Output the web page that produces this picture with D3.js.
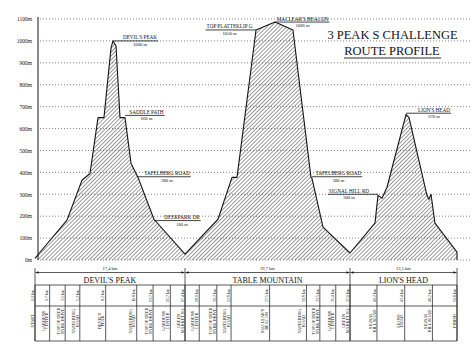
<!DOCTYPE html>
<html><head><meta charset="utf-8">
<script src="https://cdn.jsdelivr.net/npm/d3@7"></script>
<style>
html,body{margin:0;padding:0;background:#fff;}
svg{display:block;font-family:"Liberation Serif","DejaVu Serif",serif;}
</style></head><body>
<svg id="c" width="474" height="356"></svg>
<script>
// ---------- data ----------
const yTicks = [0,100,200,300,400,500,600,700,800,900,1000,1100];
const profileKm   = [0, 3.71, 5.45, 6.38, 7.31, 8.00, 8.82, 9.05, 9.40, 9.86, 10.44, 11.14, 11.95, 13.80, 17.4,
                     21.34, 23.01, 23.61, 25.88, 28.15, 30.29, 32.44, 32.56, 33.88, 37.1,
                     40.25, 40.63, 41.14, 41.77, 44.17, 44.55, 46.81, 47.06, 47.32, 47.82, 50.6, 50.6];
const profileElev = [8, 182, 364, 395, 650, 650, 968, 1000, 977, 650, 650, 441, 377, 186, 27,
                     186, 377, 377, 1050, 1086, 1050, 377, 373, 150, 32,
                     168, 295, 282, 332, 665, 650, 295, 277, 300, 168, 36, 0];
const sectionNames = ["DEVIL'S PEAK", "TABLE MOUNTAIN", "LION'S HEAD"];
const sectionBreaksKm = [0, 17.4, 37.1, 50.6];
const sectionLengths = ["17,4 km", "19,7 km", "13,5 km"];
const wpKm = [0.0, 1.7, 3.5, 5.2, 8.2, 11.8, 13.7, 15.7, 17.4, 19.1, 21.2, 22.9, 27.5, 31.9, 33.5, 35.4, 37.1, 40.5, 44.0, 47.5, 50.6];
const wpKmLabels = ["0.0 km","1.7 km","3.5 km","5.2 km","8.2 km","11.8 km","13.7 km","15.7 km","17.4 km","19.1 km","21.2 km","22.9 km","27.5 km","31.9 km","33.5 km","35.4 km","37.1 km","40.2 km","43.4 km","46.2 km","50.6 km"];
const wpNames = [["START"],["GARDENS","CENTER"],["TOP OF DEER","PARK DRIVE"],["TAFELBERG","ROAD"],["DEVIL'S","PEAK"],
  ["TAFELBERG","ROAD"],["TOP OF DEER","PARK DRIVE"],["GARDENS","CENTER"],["GREEN","MARKET SQ"],["GARDENS","CENTER"],
  ["TOP OF DEER","PARK DRIVE"],["TAFELBERG","ROAD"],["MACLEAR'S","BEACON"],["TAFELBERG","ROAD"],["TOP OF DEER","PARK DRIVE"],
  ["GARDENS","CENTER"],["GREEN","MARKET SQ"],["SIGNAL","HILL ROAD"],["LION'S","HEAD"],["SIGNAL","HILL ROAD"],["FINISH"]];
const annoNames = ["DEVIL'S PEAK","SADDLE PATH","TAFELBERG ROAD","DEERPARK DR","TOP PLATTEKLIP G","MACLEAR'S BEACON","TAFELBERG ROAD","SIGNAL HILL RD","LION'S HEAD"];
const annoHeights = [1000, 660, 380, 180, 1050, 1086, 380, 300, 670];
const annoKm = [9.05, 10.44, 11.95, 13.80, 25.88, 28.15, 32.56, 40.63, 44.17];
const titleLines = ["3 PEAK S CHALLENGE", "ROUTE PROFILE"];

// ---------- layout ----------
const annoDx = [27, 21.5, 29, 28, -26.5, 27.5, 26.5, -29, 28];
const svg = d3.select("#c");
const ink = "#141414";
const x = d3.scaleLinear().domain(sectionBreaksKm).range([35, 185, 350, 457]);
const y = d3.scaleLinear().domain([0, 1100]).range([260, 19]);

// hatch pattern
const defs = svg.append("defs");
defs.append("pattern").attr("id","hatch").attr("patternUnits","userSpaceOnUse")
  .attr("width",2.8).attr("height",2.8).attr("patternTransform","rotate(45)")
  .append("line").attr("x1",0).attr("y1",-1).attr("x2",0).attr("y2",4)
  .attr("stroke","#2a2a2a").attr("stroke-width",0.95);

// gridlines
svg.append("g").selectAll("line").data(yTicks).join("line")
  .attr("x1",40).attr("x2",472).attr("y1",d=>y(d)).attr("y2",d=>y(d))
  .attr("stroke","#555").attr("stroke-width",0.7).attr("stroke-dasharray","1,2");

// y axis
const ax = svg.append("g").attr("transform","translate(38,0)")
  .call(d3.axisLeft(y).tickValues(yTicks).tickSize(0).tickSizeOuter(0).tickPadding(6).tickFormat(d=>d+"m"));
ax.select(".domain").attr("stroke",ink).attr("stroke-width",1).attr("d","M0,17V260");
ax.selectAll("text").attr("font-family","Liberation Serif, serif").attr("font-size",5.5).attr("fill",ink);

// profile
const pts = profileKm.map((k,i)=>({km:k, m:profileElev[i]}));
const area = d3.area().x(d=>x(d.km)).y0(y(0)).y1(d=>y(d.m));
svg.append("path").datum(pts).attr("d",area).attr("fill","url(#hatch)");
const line = d3.line().x(d=>x(d.km)).y(d=>y(d.m));
svg.append("path").datum(pts).attr("d",line).attr("fill","none").attr("stroke",ink).attr("stroke-width",1.1).attr("stroke-linejoin","round");

// annotations
annoNames.forEach((name,i)=>{
  const ax0 = x(annoKm[i]), ly = y(annoHeights[i]), cx = ax0 + annoDx[i];
  const g = svg.append("g");
  const t = g.append("text").attr("x",cx).attr("y",ly-1.5).attr("text-anchor","middle")
    .attr("font-size",5.2).attr("fill",ink).text(name);
  g.append("text").attr("x",cx).attr("y",ly+5).attr("text-anchor","middle")
    .attr("font-size",4.6).attr("fill",ink).text(annoHeights[i]+" m");
  const w = t.node().getComputedTextLength();
  const end = annoDx[i] > 0 ? cx + w/2 + 1 : cx - w/2 - 1;
  g.append("line").attr("x1",ax0).attr("x2",end).attr("y1",ly).attr("y2",ly)
    .attr("stroke",ink).attr("stroke-width",0.8);
});

// title
svg.append("text").attr("x",392.5).attr("y",38.5).attr("text-anchor","middle")
  .attr("font-size",12.5).attr("fill",ink).text(titleLines[0]);
svg.append("text").attr("x",392).attr("y",55).attr("text-anchor","middle")
  .attr("font-size",12.5).attr("fill",ink).text(titleLines[1]);
svg.append("line").attr("x1",344).attr("x2",441).attr("y1",58).attr("y2",58).attr("stroke",ink).attr("stroke-width",0.9);

// ---------- table ----------
const tTop = 272.5, tSec = 285, tKm = 306, tBot = 341;
const tg = svg.append("g").attr("stroke",ink).attr("stroke-width",0.7);
[tSec, tKm, tBot].forEach(yy=>tg.append("line").attr("x1",x(0)).attr("x2",x(50.6)).attr("y1",yy).attr("y2",yy));
sectionNames.forEach((n,i)=>{
  const a = x(sectionBreaksKm[i]), b = x(sectionBreaksKm[i+1]);
  tg.append("line").attr("x1",a+0.5).attr("x2",b-0.5).attr("y1",tTop).attr("y2",tTop);
  svg.append("path").attr("d",`M${a+0.5},${tTop}l3,-1.2v2.4z M${b-0.5},${tTop}l-3,-1.2v2.4z`).attr("fill",ink);
  svg.append("text").attr("x",(a+b)/2).attr("y",269.5).attr("text-anchor","middle")
    .attr("font-size",4.5).attr("fill",ink).text(sectionLengths[i]);
  svg.append("text").attr("x",(a+b)/2).attr("y",282.5).attr("text-anchor","middle")
    .attr("font-size",8).attr("fill",ink).text(n);
});
sectionBreaksKm.forEach(k=>tg.append("line").attr("x1",x(k)).attr("x2",x(k)).attr("y1",268).attr("y2",tBot));
wpKm.forEach((k,i)=>{
  const xx = x(k);
  tg.append("line").attr("x1",xx).attr("x2",xx).attr("y1",tSec).attr("y2",tBot);
  svg.append("text").attr("transform",`translate(${xx-1.3},295.5) rotate(-90)`).attr("text-anchor","middle")
    .attr("font-size",3.9).attr("fill",ink).text(wpKmLabels[i]);
  const lines = wpNames[i], n = lines.length;
  lines.forEach((s,j)=>{
    svg.append("text").attr("transform",`translate(${xx-1.3-(n-1-j)*3.8},321) rotate(-90)`).attr("text-anchor","middle")
      .attr("font-size",4.3).attr("fill",ink).text(s);
  });
});
</script>
</body></html>
